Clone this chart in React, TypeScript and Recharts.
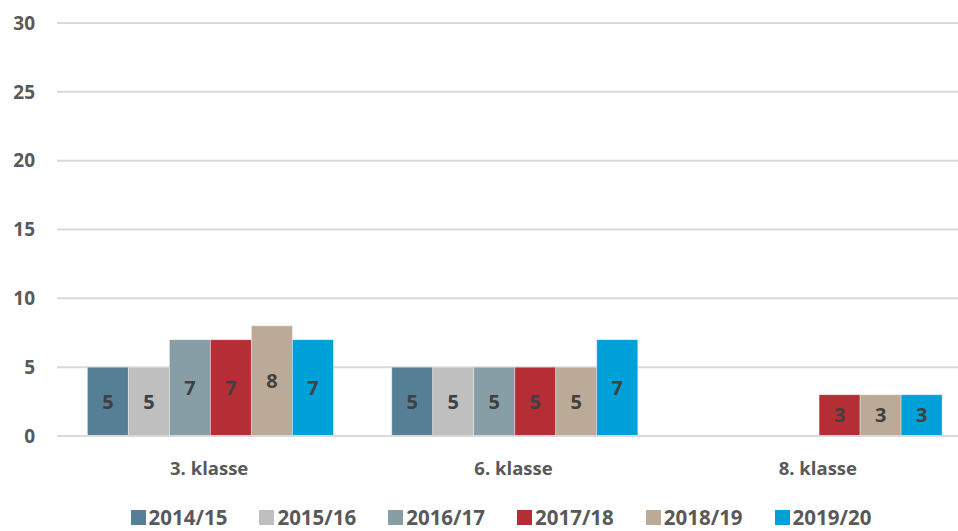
import React from 'react';
import { BarChart, Bar, XAxis, YAxis, CartesianGrid, Legend, LabelList } from 'recharts';

const categories = ['3. klasse', '6. klasse', '8. klasse'];
const years = ['2014/15', '2015/16', '2016/17', '2017/18', '2018/19', '2019/20'];
const v201415 = [5, 5, null];
const v201516 = [5, 5, null];
const v201617 = [7, 5, null];
const v201718 = [7, 5, 3];
const v201819 = [8, 5, 3];
const v201920 = [7, 7, 3];
const yTicks = [0, 5, 10, 15, 20, 25, 30];

const COLORS = ['#547f95', '#bfbfbf', '#879ea6', '#b52e36', '#bcaa98', '#00a0d8'];
const FONT = '"Open Sans", Calibri, sans-serif';

const series = [v201415, v201516, v201617, v201718, v201819, v201920];

const data = categories.map((name, i) => {
  const row: Record<string, string | number | null> = { name };
  years.forEach((y, s) => {
    row[y] = series[s][i];
  });
  return row;
});

function LegendContent() {
  return (
    <div style={{ display: 'flex', justifyContent: 'center', paddingLeft: 32, fontFamily: FONT, fontWeight: 700, fontSize: 20.5, lineHeight: '22px', color: '#595959' }}>
      {years.map((y, i) => (
        <span key={y} style={{ display: 'inline-flex', alignItems: 'center', marginRight: i < years.length - 1 ? 32 : 0 }}>
          <span style={{ width: 15, height: 15, background: COLORS[i], marginRight: 3, display: 'inline-block' }} />
          {y}
        </span>
      ))}
    </div>
  );
}

export default function App() {
  return (
    <div style={{ position: 'absolute', left: 0, top: 0, width: 958, height: 531, overflow: 'hidden', background: '#fff' }}>
      <BarChart
        width={970}
        height={531}
        data={data}
        margin={{ top: 23, right: 0, bottom: 19, left: 0 }}
        barCategoryGap="10%"
        barGap={0}
      >
        <CartesianGrid vertical={false} stroke="#d9d9d9" strokeWidth={2} />
        <XAxis
          dataKey="name"
          axisLine={{ stroke: '#d9d9d9', strokeWidth: 2 }}
          tickLine={false}
          tickMargin={20}
          height={50}
          tick={{ fill: '#595959', fontSize: 18.5, fontWeight: 700, fontFamily: FONT }}
        />
        <YAxis
          domain={[0, 30]}
          ticks={yTicks}
          width={57}
          axisLine={false}
          tickLine={false}
          tickMargin={16}
          tick={{ fill: '#595959', fontSize: 19, fontWeight: 700, fontFamily: FONT }}
        />
        <Legend verticalAlign="bottom" height={26} content={<LegendContent />} wrapperStyle={{ top: 506 }} />
        {years.map((y, i) => (
          <Bar key={y} dataKey={y} fill={COLORS[i]} stroke="#ffffff" strokeOpacity={0.35} strokeWidth={1} isAnimationActive={false}>
            <LabelList
              dataKey={y}
              position="center"
              fill="#404040"
              style={{ fontSize: 20, fontWeight: 700, fontFamily: FONT }}
            />
          </Bar>
        ))}
      </BarChart>
    </div>
  );
}
